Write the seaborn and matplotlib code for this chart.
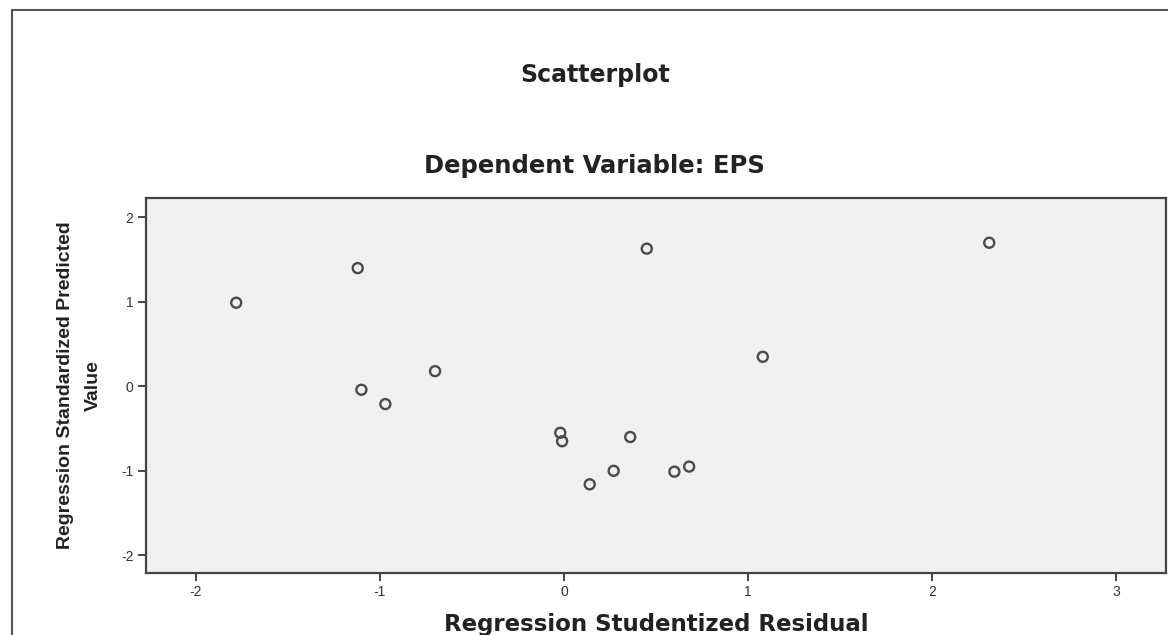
import matplotlib
matplotlib.use("Agg")
import matplotlib.pyplot as plt
import pandas as pd
import seaborn as sns
from matplotlib.patches import Rectangle

# Values
studentized_residual = [-1.78, -1.12, -1.10, -0.97, -0.70, -0.02, -0.01, 0.14,
                        0.27, 0.36, 0.45, 0.60, 0.68, 1.08, 2.31]
standardized_predicted = [0.99, 1.40, -0.04, -0.21, 0.18, -0.55, -0.65, -1.16,
                          -1.00, -0.60, 1.63, -1.01, -0.95, 0.35, 1.70]
x_ticks = [-2, -1, 0, 1, 2, 3]
y_ticks = [-2, -1, 0, 1, 2]

df = pd.DataFrame({"resid": studentized_residual, "pred": standardized_predicted})

sns.set_style("white")
plt.rcParams["font.family"] = ["Liberation Sans", "DejaVu Sans"]
wide = ["DejaVu Sans"]

W, H = 1168, 635
fig = plt.figure(figsize=(W / 100, H / 100), dpi=100)
fig.patch.set_facecolor("white")
# axes box: x 146..1166 px, y 198..573 px
ax = fig.add_axes([146 / W, 1 - 573 / H, 1020 / W, 375 / H])
ax.set_facecolor("#f0f0f0")

sns.scatterplot(data=df, x="resid", y="pred", ax=ax, marker="o", s=52,
                facecolor="none", edgecolor="#4a4a4a", linewidth=1.7)

ax.set_xlim(-2.27, 3.27)
ax.set_ylim(-2.21, 2.23)
ax.set_xticks(x_ticks)
ax.set_yticks(y_ticks)
ax.set_xticklabels([str(t) for t in x_ticks], fontsize=10, color="#333333")
ax.set_yticklabels([str(t) for t in y_ticks], fontsize=10, color="#333333")
ax.tick_params(axis="both", direction="out", length=6, width=1.4, color="#444444",
               left=True, bottom=True, pad=3)
for spine in ax.spines.values():
    spine.set_color("#444444")
    spine.set_linewidth(1.6)

ax.set_xlabel("Regression Studentized Residual", family=wide, fontsize=16.5,
              fontweight="bold", color="#222222", va="center")
ax.xaxis.set_label_coords(0.5, (573 - 624) / 375)
ax.set_ylabel("Regression Standardized Predicted\nValue", fontsize=14,
              fontweight="bold", color="#222222", linespacing=1.85)
ax.yaxis.set_label_coords((102 - 146) / 1020, 0.5)

fig.text(595 / W, 1 - 75 / H, "Scatterplot", family=wide, ha="center", va="center",
         fontsize=17, fontweight="bold", color="#222222")
fig.text(594 / W, 1 - 166 / H, "Dependent Variable: EPS", family=wide, ha="center",
         va="center", fontsize=17.5, fontweight="bold", color="#222222")

# outer frame of the chart window
fig.add_artist(Rectangle((12 / W, -0.05), 1.1, 1 - 10 / H + 0.05,
                         transform=fig.transFigure, fill=False,
                         edgecolor="#555555", linewidth=1.5))

fig.savefig("out.png", dpi=100)
